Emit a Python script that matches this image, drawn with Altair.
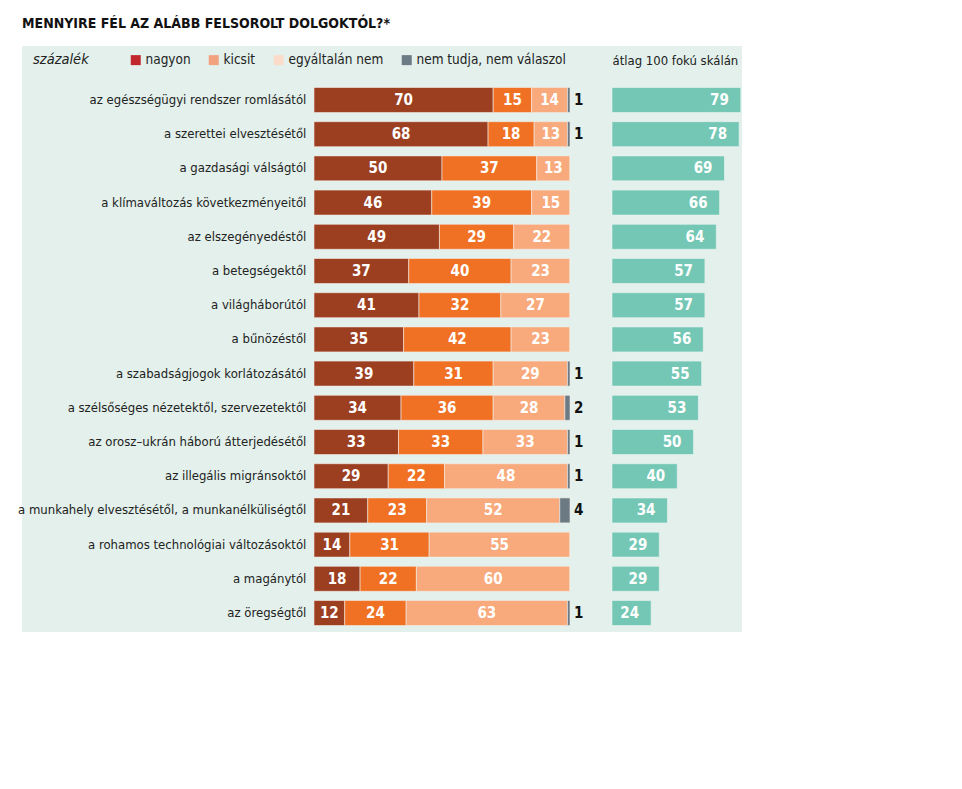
import altair as alt
import pandas as pd

categories = [
    "az egészségügyi rendszer romlásától",
    "a szerettei elvesztésétől",
    "a gazdasági válságtól",
    "a klímaváltozás következményeitől",
    "az elszegényedéstől",
    "a betegségektől",
    "a világháborútól",
    "a bűnözéstől",
    "a szabadságjogok korlátozásától",
    "a szélsőséges nézetektől, szervezetektől",
    "az orosz–ukrán háború átterjedésétől",
    "az illegális migránsoktól",
    "a munkahely elvesztésétől, a munkanélküliségtől",
    "a rohamos technológiai változásoktól",
    "a magánytól",
    "az öregségtől",
]
nagyon = [70, 68, 50, 46, 49, 37, 41, 35, 39, 34, 33, 29, 21, 14, 18, 12]
kicsit = [15, 18, 37, 39, 29, 40, 32, 42, 31, 36, 33, 22, 23, 31, 22, 24]
egyaltalan = [14, 13, 13, 15, 22, 23, 27, 23, 29, 28, 33, 48, 52, 55, 60, 63]
nem_tudja = [1, 1, 0, 0, 0, 0, 0, 0, 1, 2, 1, 1, 4, 0, 0, 1]
atlag = [79, 78, 69, 66, 64, 57, 57, 56, 55, 53, 50, 40, 34, 29, 29, 24]

series_names = ["nagyon", "kicsit", "egyáltalán nem", "nem tudja, nem válaszol"]
bar_colors = ["#9c3e20", "#f07124", "#f8aa7c", "#6c7a84"]
legend_colors = ["#c1272d", "#f3a27f", "#fbdccb", "#6d7b86"]

rows = []
for i, c in enumerate(categories):
    for j, vals in enumerate([nagyon, kicsit, egyaltalan, nem_tudja]):
        rows.append({"cat": c, "series": series_names[j], "order": j, "value": vals[i]})
long = pd.DataFrame(rows)
avg = pd.DataFrame({"cat": categories, "avg": atlag})

FONT = "'DejaVu Sans Condensed', Lato, sans-serif"
yscale = alt.Scale(domain=categories, range=[41.5, 579.5], paddingInner=0.27, paddingOuter=0)
xl = alt.Scale(domain=[0, 100], range=[292, 548], nice=False, zero=False)
xr = alt.Scale(domain=[0, 100], range=[590, 753], nice=False, zero=False)
Y = alt.Y("cat:N", scale=yscale, axis=None)

stacked = alt.Chart(long).transform_stack(
    stack="value", groupby=["cat"], as_=["x0", "x1"], sort=[alt.SortField("order")]
).transform_calculate(mid="(datum.x0 + datum.x1) / 2")

bars = stacked.mark_bar(stroke="#f3ece6", strokeWidth=0.6).encode(
    y=Y,
    x=alt.X("x0:Q", scale=xl, axis=None),
    x2="x1:Q",
    fill=alt.Fill("series:N", sort=series_names, scale=alt.Scale(range=bar_colors), legend=None),
)

seg_text = stacked.transform_filter(
    "datum.order < 3 && datum.value > 0"
).mark_text(font=FONT, fontSize=15, fontWeight="bold", color="white").encode(
    y=Y, x=alt.X("mid:Q", scale=xl, axis=None), text="value:Q"
)

nt_text = alt.Chart(long).transform_filter(
    "datum.order == 3 && datum.value > 0"
).mark_text(font=FONT, fontSize=15, fontWeight="bold", color="#111", align="left", dx=4).encode(
    y=Y, x=alt.XDatum(100, scale=xl, axis=None), text="value:Q"
)

cat_text = alt.Chart(avg).mark_text(font=FONT, fontSize=13, color="#222", align="right").encode(
    y=Y, x=alt.XDatum(-3, scale=xl, axis=None), text="cat:N"
)

legend_dummy = alt.Chart(long).mark_point(shape="square", filled=True, opacity=0).encode(
    y=Y,
    x=alt.X("value:Q", scale=xl, axis=None),
    color=alt.Color(
        "series:N",
        scale=alt.Scale(domain=series_names, range=legend_colors),
        legend=alt.Legend(
            title="százalék",
            orient="none",
            legendX=11,
            legendY=7,
            direction="horizontal",
            titleOrient="left",
            titleFont=FONT,
            titleFontStyle="italic",
            titleFontWeight="normal",
            titleFontSize=14.5,
            titleColor="#222",
            titlePadding=40,
            labelFont=FONT,
            labelFontSize=13.5,
            labelColor="#222",
            labelOffset=3,
            symbolType="square",
            symbolSize=100,
            symbolOpacity=1,
            symbolStrokeWidth=0,
            columnPadding=16,
        ),
    ),
)

teal = alt.Chart(avg).mark_bar(color="#74c7b5", stroke="#eaf5f1", strokeWidth=0.6).encode(
    y=Y,
    x=alt.X(
        "avg:Q",
        scale=xr,
        axis=alt.Axis(
            orient="top",
            domain=False,
            ticks=False,
            labels=False,
            grid=False,
            title="átlag 100 fokú skálán",
            titleFont=FONT,
            titleFontSize=13,
            titleFontWeight="normal",
            titleColor="#222",
            titleAlign="left",
            titleAnchor="start",
            titleX=590,
            titleY=14,
            titleBaseline="middle",
        ),
    ),
    x2=alt.X2Datum(0),
)

teal_text = alt.Chart(avg).mark_text(
    font=FONT, fontSize=15, fontWeight="bold", color="white", align="right", dx=-12
).encode(y=Y, x=alt.X("avg:Q", scale=xr, axis=None), text="avg:Q")

chart = alt.layer(
    bars, seg_text, nt_text, cat_text, legend_dummy, teal, teal_text
).resolve_scale(x="independent").properties(
    width=720,
    height=586,
    autosize="none",
    background="white",
    padding={"left": 14, "top": 38, "right": 10, "bottom": 10},
    title=alt.TitleParams(
        "MENNYIRE FÉL AZ ALÁBB FELSOROLT DOLGOKTÓL?*",
        anchor="start",
        frame="group",
        font=FONT,
        fontSize=14,
        fontWeight="bold",
        color="#111",
        offset=15,
    ),
).configure_view(fill="#e3f0eb", strokeWidth=0)

chart.save("out.html", embed_options={"renderer": "svg", "actions": False})
